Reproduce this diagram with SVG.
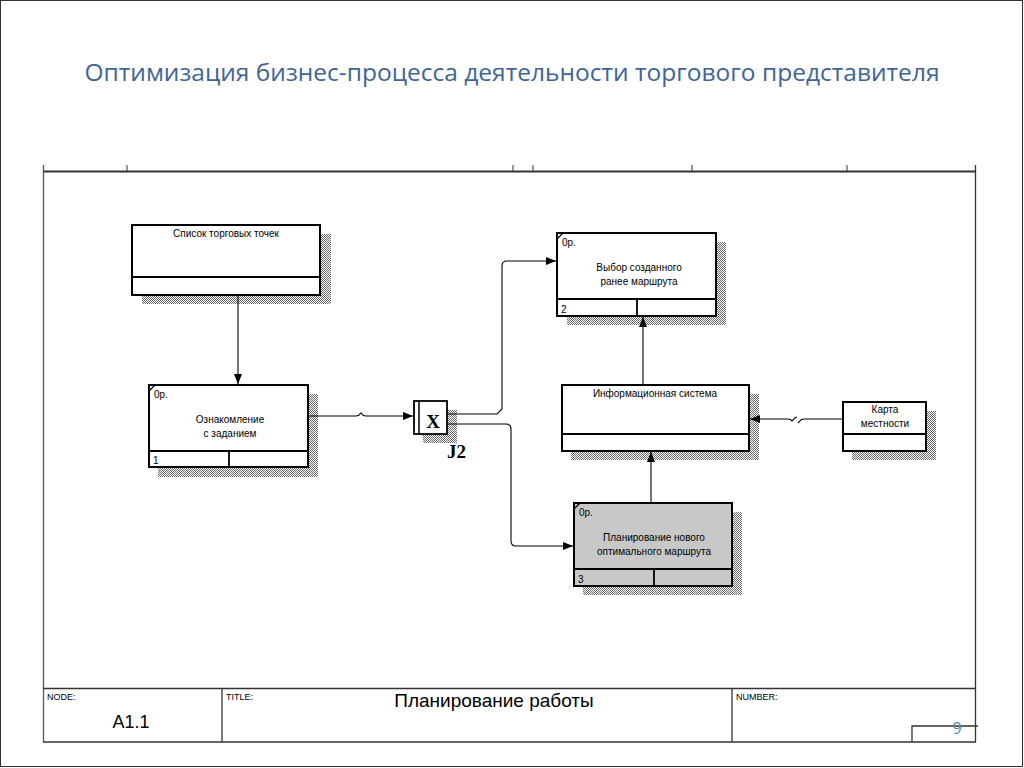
<svg xmlns="http://www.w3.org/2000/svg" width="1024" height="768" viewBox="0 0 1024 768">
<defs>
<pattern id="hatch" width="2" height="2" patternUnits="userSpaceOnUse">
<rect width="2" height="2" fill="#ffffff"/>
<rect x="0" y="0" width="1" height="1" fill="#6a6a6a"/>
<rect x="1" y="1" width="1" height="1" fill="#6a6a6a"/>
</pattern>
<marker id="arr" markerWidth="10" markerHeight="8" refX="10" refY="4" orient="auto" markerUnits="userSpaceOnUse">
<path d="M0,0 L10,4 L0,8 Z" fill="#000"/>
</marker>
<style>
.box{fill:#fff;stroke:#000;stroke-width:2}
.gbox{fill:#c8c8c8;stroke:#000;stroke-width:2}
.ln{fill:none;stroke:#000;stroke-width:1.8}
.sh{fill:url(#hatch)}
.t{font-family:"Liberation Sans",Arial,sans-serif;font-size:10px;fill:#000}
.tm{text-anchor:middle}
.c{fill:none;stroke:#000;stroke-width:1.1}
.small{font-family:"Liberation Sans",Arial,sans-serif;font-size:9px;fill:#000}
.op{font-family:"Liberation Sans",Arial,sans-serif;font-size:10px;fill:#000}
</style>
</defs>
<rect x="0.5" y="0.5" width="1022" height="766" fill="#fff" stroke="#333" stroke-width="1"/>
<text x="512" y="81" text-anchor="middle" font-family="'Open Sans','Liberation Sans',sans-serif" font-size="23" fill="#3e6596" textLength="855" lengthAdjust="spacingAndGlyphs">Оптимизация бизнес-процесса деятельности торгового представителя</text>

<g id="frame">
<line x1="43" y1="171.5" x2="976" y2="171.5" stroke="#333" stroke-width="2"/>
<line x1="43.5" y1="165" x2="43.5" y2="742" stroke="#555" stroke-width="1.3"/>
<line x1="975.5" y1="165" x2="975.5" y2="742" stroke="#333" stroke-width="1.3"/>
<line x1="127" y1="165" x2="127" y2="171" stroke="#333"/>
<line x1="513" y1="165" x2="513" y2="171" stroke="#333"/>
<line x1="533" y1="165" x2="533" y2="171" stroke="#333"/>
<line x1="692" y1="165" x2="692" y2="171" stroke="#333"/>
<line x1="847" y1="165" x2="847" y2="171" stroke="#333"/>
<line x1="43" y1="688.5" x2="976" y2="688.5" stroke="#333" stroke-width="1.3"/>
<line x1="43" y1="742" x2="976" y2="742" stroke="#333" stroke-width="1.3"/>
<line x1="222" y1="688" x2="222" y2="742" stroke="#333" stroke-width="1.3"/>
<line x1="732" y1="688" x2="732" y2="742" stroke="#333" stroke-width="1.3"/>
<polyline points="912,742 912,726 978,726" fill="none" stroke="#333" stroke-width="1.3"/>
<text x="47" y="700" class="small">NODE:</text>
<text x="226" y="700" class="small">TITLE:</text>
<text x="736" y="700" class="small">NUMBER:</text>
<text x="131" y="728" text-anchor="middle" font-family="'Liberation Sans',Arial,sans-serif" font-size="18">A1.1</text>
<text x="494" y="707" text-anchor="middle" font-family="'Liberation Sans',Arial,sans-serif" font-size="19">Планирование работы</text>
<text x="957" y="734" text-anchor="middle" font-family="'Open Sans','Liberation Sans',sans-serif" font-size="16" fill="#5b7fb5">9</text>
</g>

<g id="node-spisok">
<rect class="sh" x="142" y="234" width="189" height="70"/>
<rect class="box" x="132" y="225" width="188" height="70"/>
<line class="ln" x1="132" y1="277" x2="320" y2="277"/>
<text class="t tm" x="226" y="237">Список торговых точек</text>
</g>

<g id="node-1">
<rect class="sh" x="158" y="394" width="160" height="83"/>
<rect class="box" x="149" y="385" width="159" height="82"/>
<line class="ln" x1="149" y1="451" x2="308" y2="451"/>
<line class="ln" x1="229" y1="451" x2="229" y2="467"/>
<line x1="149" y1="391" x2="155" y2="385" stroke="#000" stroke-width="1.2"/>
<text class="op" x="154" y="398">0p.</text>
<text class="t tm" x="230" y="423">Ознакомление</text>
<text class="t tm" x="230" y="437">с заданием</text>
<text class="t" x="153" y="464">1</text>
</g>

<g id="junction-j2">
<rect class="sh" x="423" y="410" width="34" height="33"/>
<rect x="414" y="401" width="33" height="33" fill="#fff" stroke="#000" stroke-width="1.8"/>
<line x1="419" y1="401" x2="419" y2="434" stroke="#000" stroke-width="1.5"/>
<text x="433" y="428" text-anchor="middle" font-family="'Liberation Serif','Times New Roman',serif" font-weight="bold" font-size="19">X</text>
<text x="447" y="458" font-family="'Liberation Serif','Times New Roman',serif" font-weight="bold" font-size="19">J2</text>
</g>

<g id="node-2">
<rect class="sh" x="567" y="242" width="159" height="83"/>
<rect class="box" x="557" y="233" width="159" height="83"/>
<line class="ln" x1="557" y1="299" x2="716" y2="299"/>
<line class="ln" x1="637" y1="299" x2="637" y2="316"/>
<line x1="557" y1="239" x2="563" y2="233" stroke="#000" stroke-width="1.2"/>
<text class="op" x="562" y="246">0p.</text>
<text class="t tm" x="639" y="271">Выбор созданного</text>
<text class="t tm" x="639" y="285">ранее маршрута</text>
<text class="t" x="561" y="313">2</text>
</g>

<g id="node-info">
<rect class="sh" x="571" y="394" width="188" height="66"/>
<rect class="box" x="562" y="385" width="187" height="66"/>
<line class="ln" x1="562" y1="434" x2="749" y2="434"/>
<text class="t tm" x="655" y="397">Информационная система</text>
</g>

<g id="node-karta">
<rect class="sh" x="852" y="411" width="84" height="49"/>
<rect class="box" x="843" y="402" width="83" height="49"/>
<line class="ln" x1="843" y1="434" x2="926" y2="434"/>
<text class="t tm" x="885" y="413">Карта</text>
<text class="t tm" x="885" y="427">местности</text>
</g>

<g id="node-3">
<rect class="sh" x="583" y="512" width="159" height="83"/>
<rect class="gbox" x="574" y="503" width="158" height="83"/>
<line class="ln" x1="574" y1="569" x2="732" y2="569"/>
<line class="ln" x1="654" y1="569" x2="654" y2="586"/>
<line x1="574" y1="509" x2="580" y2="503" stroke="#000" stroke-width="1.2"/>
<text class="op" x="579" y="516">0p.</text>
<text class="t tm" x="654" y="541">Планирование нового</text>
<text class="t tm" x="654" y="555">оптимального маршрута</text>
<text class="t" x="578" y="583">3</text>
</g>

<g id="connectors">
<line class="c" x1="238" y1="296" x2="238" y2="384" marker-end="url(#arr)"/>
<path class="c" d="M309,416 H356 q3,0 4,-2 q1,-2 2,0 q1,2 4,2 H413" marker-end="url(#arr)"/>
<path class="c" d="M448,414 H497 l5,-5 V266 q0,-5 5,-5 H556" marker-end="url(#arr)"/>
<path class="c" d="M448,424 H506 q5,0 5,5 V541 q0,5 5,5 H573" marker-end="url(#arr)"/>
<line class="c" x1="651" y1="502" x2="651" y2="452" marker-end="url(#arr)"/>
<line class="c" x1="643" y1="384" x2="643" y2="317" marker-end="url(#arr)"/>
<path class="c" d="M842,419 H804 q-3,0 -4,2 l-2,2 M797,417 q-2,0 -3,2 l-2,2 q-1,-2 -4,-2 H750" marker-end="url(#arr)"/>
</g>
</svg>
